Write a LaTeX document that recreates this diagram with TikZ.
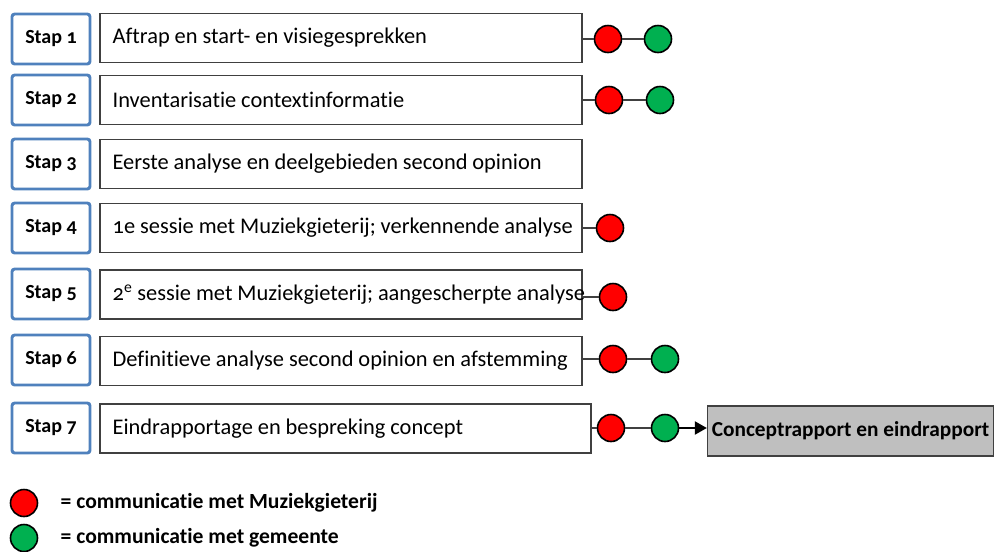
\documentclass[tikz,border=0pt]{standalone}
\usepackage{fontspec}
\setmainfont{Carlito}[Numbers=OldStyle, Ligatures=NoCommon]
\usetikzlibrary{arrows.meta}

\definecolor{stapblauw}{RGB}{79,129,189}
\definecolor{lijngrijs}{RGB}{64,64,64}
\definecolor{gemeentegroen}{RGB}{0,176,80}
\definecolor{rapportgrijs}{RGB}{191,191,191}

\newcommand{\taakletter}{\fontsize{16.8}{20}\selectfont\spaceskip=0.22em plus 0.05em\relax}

\tikzset{
	stapbox/.style = {draw=stapblauw, line width=2.2pt, rounded corners=2pt, fill=white,
		minimum width=58.5pt, minimum height=37.5pt, font=\bfseries\fontsize{15}{18}\selectfont},
	taakbox/.style = {draw=lijngrijs, line width=0.9pt, minimum width=361.5pt, minimum height=36.75pt},
	taaktekst/.style = {anchor=west, inner sep=0pt, xshift=9.75pt, font=\taakletter},
	rood/.style = {circle, draw=black, line width=1.2pt, fill=red, minimum size=20.25pt, inner sep=0pt},
	groen/.style = {rood, fill=gemeentegroen},
	uitkomst/.style = {draw=lijngrijs, line width=0.9pt, fill=rapportgrijs, minimum width=213.75pt,
		minimum height=37.5pt, font=\bfseries\fontsize{16}{18}\selectfont},
	legenda/.style = {anchor=west, font=\bfseries\fontsize{16.2}{18}\selectfont},
	verbinding/.style = {draw=lijngrijs, line width=0.9pt}
}

\begin{document}
\begin{tikzpicture}[x=0.75pt, y=-0.75pt]
	\useasboundingbox (0,0) rectangle (995,551);

	% stappen
	\node [stapbox] (s1) at (51, 39) {Stap 1};
	\node [stapbox] (s2) at (51, 100) {Stap 2};
	\node [stapbox] (s3) at (51, 164) {Stap 3};
	\node [stapbox] (s4) at (51, 228) {Stap 4};
	\node [stapbox] (s5) at (51, 294) {Stap 5};
	\node [stapbox] (s6) at (51, 360) {Stap 6};
	\node [stapbox] (s7) at (51, 428) {Stap 7};

	% omschrijvingen
	\node [taakbox, label={[taaktekst]west:Aftrap en start- en visiegesprekken}] (t1) at (341, 38) {};
	\node [taakbox, label={[taaktekst]west:Inventarisatie contextinformatie}] (t2) at (341, 100) {};
	\node [taakbox, label={[taaktekst]west:Eerste analyse en deelgebieden second opinion}] (t3) at (341, 164) {};
	\node [taakbox, label={[taaktekst]west:1e sessie met Muziekgieterij; verkennende analyse}] (t4) at (341, 228) {};
	\node [taakbox, label={[taaktekst]west:2\textsuperscript{e} sessie met Muziekgieterij; aangescherpte analyse}] (t5) at (341, 294.5) {};
	\node [taakbox, label={[taaktekst]west:Definitieve analyse second opinion en afstemming}] (t6) at (341, 361) {};
	\node [taakbox, minimum width=368.25pt, label={[taaktekst]west:Eindrapportage en bespreking concept}] (t7) at (345.5, 428.5) {};

	% communicatiemomenten
	\node [rood] (r1) at (608, 39) {};
	\node [groen] (g1) at (658, 39) {};
	\node [rood] (r2) at (609, 100) {};
	\node [groen] (g2) at (660, 100) {};
	\node [rood] (r4) at (610, 228) {};
	\node [rood] (r5) at (613, 297) {};
	\node [rood] (r6) at (613, 359) {};
	\node [groen] (g6) at (665, 359) {};
	\node [rood] (r7) at (611, 428) {};
	\node [groen] (g7) at (665, 428) {};
	\node [uitkomst] (rapport) at (850.5, 431) {Conceptrapport en eindrapport};

	\draw [verbinding] (t1.east |- r1) -- (r1) -- (g1);
	\draw [verbinding] (t2.east |- r2) -- (r2) -- (g2);
	\draw [verbinding] (t4.east |- r4) -- (r4);
	\draw [verbinding] (t5.east |- r5) -- (r5);
	\draw [verbinding] (t6.east |- r6) -- (r6) -- (g6);
	\draw [verbinding] (t7.east |- r7) -- (r7) -- (g7);
	\draw [verbinding, -{Triangle[length=9pt, width=10pt]}, black] (g7) -- (rapport.west |- g7);

	% legenda
	\node [rood] (lr) at (24, 503) {};
	\node [groen] (lg) at (24, 538) {};
	\node [legenda] (lrt) at (56, 503) {= communicatie met Muziekgieterij};
	\node [legenda] (lgt) at (56, 538) {= communicatie met gemeente};
\end{tikzpicture}
\end{document}
